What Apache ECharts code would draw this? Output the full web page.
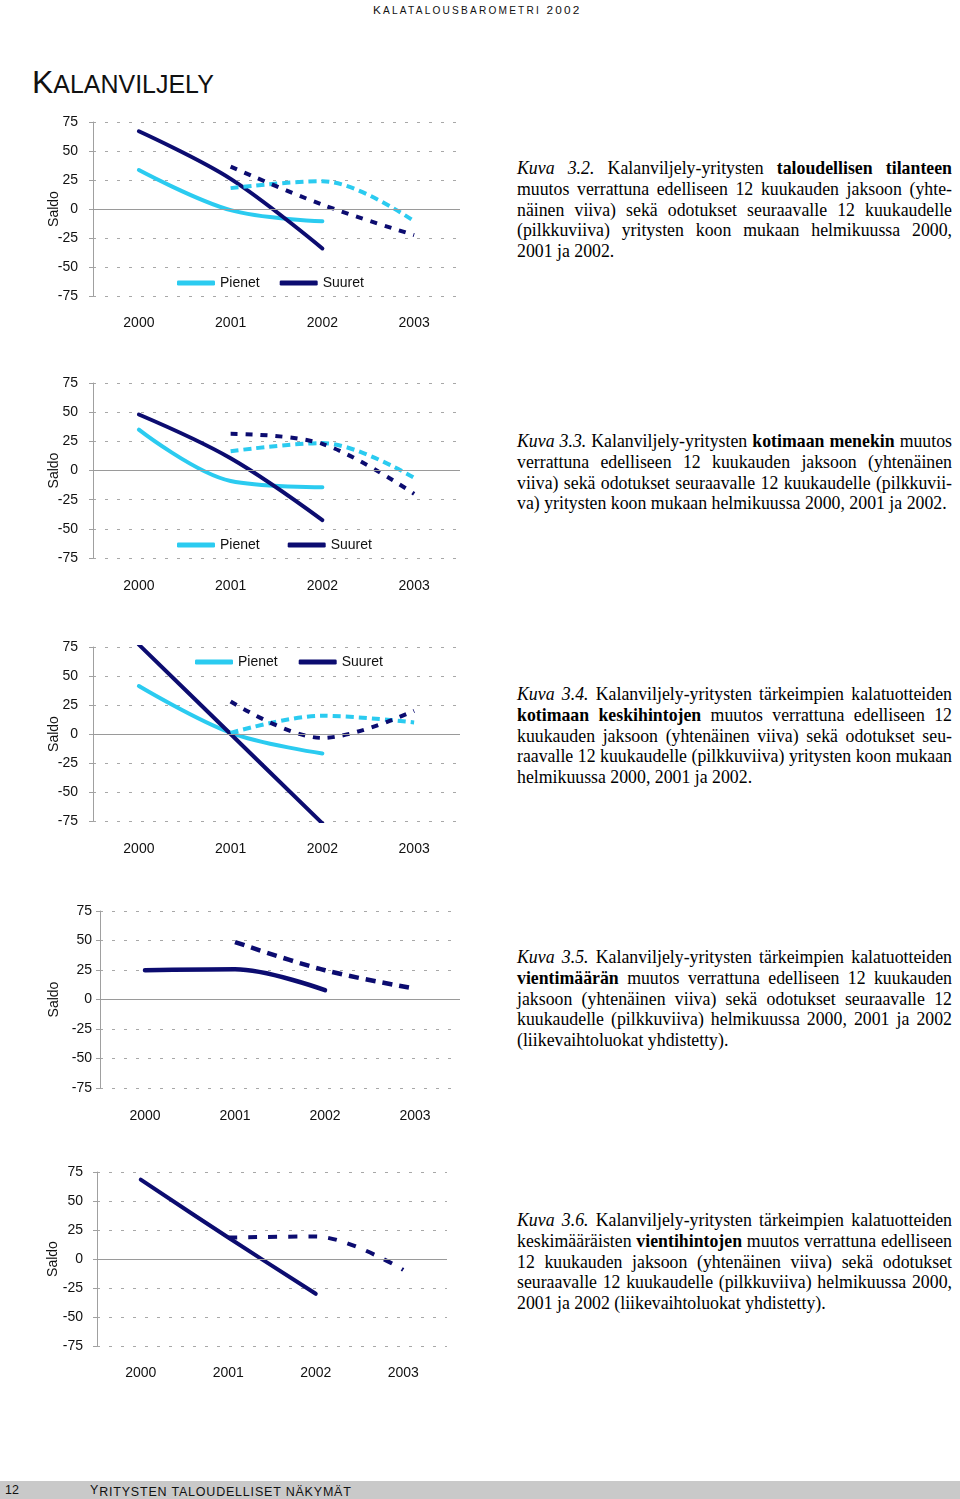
<!DOCTYPE html>
<html><head><meta charset="utf-8">
<script src="https://cdn.jsdelivr.net/npm/echarts@6/dist/echarts.min.js"></script>
<style>
body{margin:0;width:960px;height:1499px;position:relative;background:#fff;overflow:hidden;font-family:"Liberation Sans",Arial,sans-serif;color:#111;}
.chart{position:absolute;left:0;width:480px;height:260px;}
.cap{position:absolute;left:517px;width:435px;font-family:"Liberation Serif","Times New Roman",serif;font-size:17.8px;line-height:20.8px;color:#000;}
.cap div{text-align:justify;text-align-last:justify;}
.cap div.last{text-align-last:left;}
.sc{font-size:0.78em;}
#hdr{position:absolute;top:3px;left:373px;font-size:11.8px;letter-spacing:2.2px;white-space:nowrap;line-height:14px;}
#hdr .sc{font-size:0.86em;}
#title{position:absolute;top:64px;left:32px;font-size:32px;white-space:nowrap;line-height:36px;letter-spacing:0px;}
#foot{position:absolute;left:0;top:1481px;width:960px;height:18px;background:#c9c9c9;}
#foot span{position:absolute;top:2px;font-size:12.5px;line-height:14px;white-space:nowrap;}
</style>
</head><body>
<div id="hdr">K<span class="sc">ALATALOUSBAROMETRI</span> 2002</div>
<div id="title">K<span class="sc">ALANVILJELY</span></div>

<div class="chart" id="c1" style="top:92px"></div>
<div class="chart" id="c2" style="top:353px"></div>
<div class="chart" id="c3" style="top:617px"></div>
<div class="chart" id="c4" style="top:881px"></div>
<div class="chart" id="c5" style="top:1142px"></div>

<div class="cap" style="top:158px">
<div><i>Kuva 3.2.</i> Kalanviljely-yritysten <b>taloudellisen tilanteen</b></div>
<div>muutos verrattuna edelliseen 12 kuukauden jaksoon (yhte-</div>
<div>näinen viiva) sekä odotukset seuraavalle 12 kuukaudelle</div>
<div>(pilkkuviiva) yritysten koon mukaan helmikuussa 2000,</div>
<div class="last">2001 ja 2002.</div>
</div>
<div class="cap" style="top:431px">
<div><i>Kuva 3.3.</i> Kalanviljely-yritysten <b>kotimaan menekin</b> muutos</div>
<div>verrattuna edelliseen 12 kuukauden jaksoon (yhtenäinen</div>
<div>viiva) sekä odotukset seuraavalle 12 kuukaudelle (pilkkuvii-</div>
<div class="last">va) yritysten koon mukaan helmikuussa 2000, 2001 ja 2002.</div>
</div>
<div class="cap" style="top:684px">
<div><i>Kuva 3.4.</i> Kalanviljely-yritysten tärkeimpien kalatuotteiden</div>
<div><b>kotimaan keskihintojen</b> muutos verrattuna edelliseen 12</div>
<div>kuukauden jaksoon (yhtenäinen viiva) sekä odotukset seu-</div>
<div>raavalle 12 kuukaudelle (pilkkuviiva) yritysten koon mukaan</div>
<div class="last">helmikuussa 2000, 2001 ja 2002.</div>
</div>
<div class="cap" style="top:947px">
<div><i>Kuva 3.5.</i> Kalanviljely-yritysten tärkeimpien kalatuotteiden</div>
<div><b>vientimäärän</b> muutos verrattuna edelliseen 12 kuukauden</div>
<div>jaksoon (yhtenäinen viiva) sekä odotukset seuraavalle 12</div>
<div>kuukaudelle (pilkkuviiva) helmikuussa 2000, 2001 ja 2002</div>
<div class="last">(liikevaihtoluokat yhdistetty).</div>
</div>
<div class="cap" style="top:1210px">
<div><i>Kuva 3.6.</i> Kalanviljely-yritysten tärkeimpien kalatuotteiden</div>
<div>keskimääräisten <b>vientihintojen</b> muutos verrattuna edelliseen</div>
<div>12 kuukauden jaksoon (yhtenäinen viiva) sekä odotukset</div>
<div>seuraavalle 12 kuukaudelle (pilkkuviiva) helmikuussa 2000,</div>
<div class="last">2001 ja 2002 (liikevaihtoluokat yhdistetty).</div>
</div>

<div id="foot"><span style="left:5px">12</span><span style="left:90px;letter-spacing:0.8px">Y<span class="sc">RITYSTEN TALOUDELLISET NÄKYMÄT</span></span></div>

<script>
// ---- shared axis data ----
const years = ['2000', '2001', '2002', '2003'];
const yMin = -75, yMax = 75, yStep = 25;
const axisName = 'Saldo';
const legendNames = ['Pienet', 'Suuret'];

// ---- Kuva 3.2 (taloudellinen tilanne) ----
const k32PienetActual = [33.6, -1, -10.5, null];
const k32SuuretActual = [67, 26, -34, null];
const k32PienetExpect = [null, 18, 24, -10.5];
const k32SuuretExpect = [null, 36.5, 3.7, -22.5];

// ---- Kuva 3.3 (kotimaan menekki) ----
const k33PienetActual = [35, -9, -14.3, null];
const k33SuuretActual = [48, 10.5, -42.5, null];
const k33PienetExpect = [null, 16.5, 23.5, -6.3];
const k33SuuretExpect = [null, 31.4, 22.8, -20];

// ---- Kuva 3.4 (kotimaan keskihinnat) ----
const k34PienetActual = [41.3, 1, -16.8, null];
const k34SuuretActual = [77, 0, -77, null];
const k34PienetExpect = [null, 1, 15.7, 10];
const k34SuuretExpect = [null, 28, -3.4, 20];

// ---- Kuva 3.5 (vientimäärä) ----
const k35Actual = [24.8, 25.6, 7.9, null];
const k35Expect = [null, 48.7, 24.8, 9.3];

// ---- Kuva 3.6 (vientihinnat) ----
const k36Actual = [68.4, 18.5, -30, null];
const k36Expect = [null, 18.5, 19.4, -9.4];

const LIGHT = '#2BCBF0';
const NAVY = '#0C0C70';
const FONT = '"Liberation Sans", Arial, sans-serif';

function line(name, data, color, dash, width) {
  return {
    name: name, type: 'line', data: data, smooth: 0.35, symbol: 'none',
    connectNulls: false, clip: true, animation: false,
    itemStyle: { color: color },
    lineStyle: { color: color, width: width || 4, type: dash || 'solid', cap: dash ? 'butt' : 'round', join: 'round' }
  };
}

function build(id, cfg) {
  const chart = echarts.init(document.getElementById(id));
  const series = cfg.series;
  series.unshift({
    name: 'zero', type: 'line', data: [], symbol: 'none', animation: false,
    markLine: { silent: true, symbol: 'none', label: { show: false }, animation: false,
      lineStyle: { color: '#9a9a9a', type: 'solid', width: 1 }, data: [{ yAxis: 0 }] }
  });
  const opt = {
    animation: false,
    grid: { left: cfg.left, top: 30, width: cfg.width, height: cfg.height },
    xAxis: {
      type: 'category', data: years, boundaryGap: true,
      axisLine: { show: false }, axisTick: { show: false }, splitLine: { show: false },
      axisLabel: { margin: cfg.xMargin, fontSize: 14, color: '#111', fontFamily: FONT }
    },
    yAxis: {
      type: 'value', min: yMin, max: yMax, interval: yStep,
      name: axisName, nameLocation: 'middle', nameGap: cfg.nameGap, nameMoveOverlap: false,
      nameTextStyle: { fontSize: 14, color: '#111', fontFamily: FONT },
      axisLine: { show: true, lineStyle: { color: '#a0a0a0', width: 1 } },
      axisTick: { show: true, length: 4, lineStyle: { color: '#a0a0a0' } },
      axisLabel: { margin: cfg.yMargin, fontSize: 14, color: '#111', fontFamily: FONT },
      splitLine: { show: true, lineStyle: { color: '#a8a8a8', type: [3, 9], width: 1 } }
    },
    series: series
  };
  if (cfg.legend) {
    opt.legend = {
      data: legendNames, left: cfg.legend.left, top: cfg.legend.top, itemGap: cfg.legend.gap,
      icon: 'roundRect', itemWidth: 38, itemHeight: 5, padding: 0, selectedMode: false,
      textStyle: { fontSize: 14, color: '#111', fontFamily: FONT }
    };
  }
  chart.setOption(opt);
}

build('c1', {
  left: 93, width: 367, height: 174, xMargin: 20, yMargin: 15, nameGap: 32,
  legend: { left: 177, top: 184, gap: 20 },
  series: [
    line('Pienet', k32PienetActual, LIGHT),
    line('Suuret', k32SuuretActual, NAVY),
    line('Pienet odotus', k32PienetExpect, LIGHT, [8, 5]),
    line('Suuret odotus', k32SuuretExpect, NAVY, [7, 8])
  ]
});
build('c2', {
  left: 93, width: 367, height: 175, xMargin: 21, yMargin: 15, nameGap: 32,
  legend: { left: 177, top: 185, gap: 28 },
  series: [
    line('Pienet', k33PienetActual, LIGHT),
    line('Suuret', k33SuuretActual, NAVY),
    line('Pienet odotus', k33PienetExpect, LIGHT, [8, 5]),
    line('Suuret odotus', k33SuuretExpect, NAVY, [7, 8])
  ]
});
build('c3', {
  left: 93, width: 367, height: 174, xMargin: 21, yMargin: 15, nameGap: 32,
  legend: { left: 195, top: 38, gap: 21 },
  series: [
    line('Pienet', k34PienetActual, LIGHT),
    line('Suuret', k34SuuretActual, NAVY),
    line('Pienet odotus', k34PienetExpect, LIGHT, [8, 5]),
    line('Suuret odotus', k34SuuretExpect, NAVY, [7, 8])
  ]
});
build('c4', {
  left: 100, width: 360, height: 177, xMargin: 21, yMargin: 8, nameGap: 39,
  series: [
    line('Vienti', k35Actual, NAVY, null, 4.5),
    line('Vienti odotus', k35Expect, NAVY, [10, 7], 4.5)
  ]
});
build('c5', {
  left: 97, width: 350, height: 174, xMargin: 20, yMargin: 14, nameGap: 37,
  series: [
    line('Vientihinta', k36Actual, NAVY, null, 4),
    line('Vientihinta odotus', k36Expect, NAVY, [9, 11], 4)
  ]
});
</script>
</body></html>
